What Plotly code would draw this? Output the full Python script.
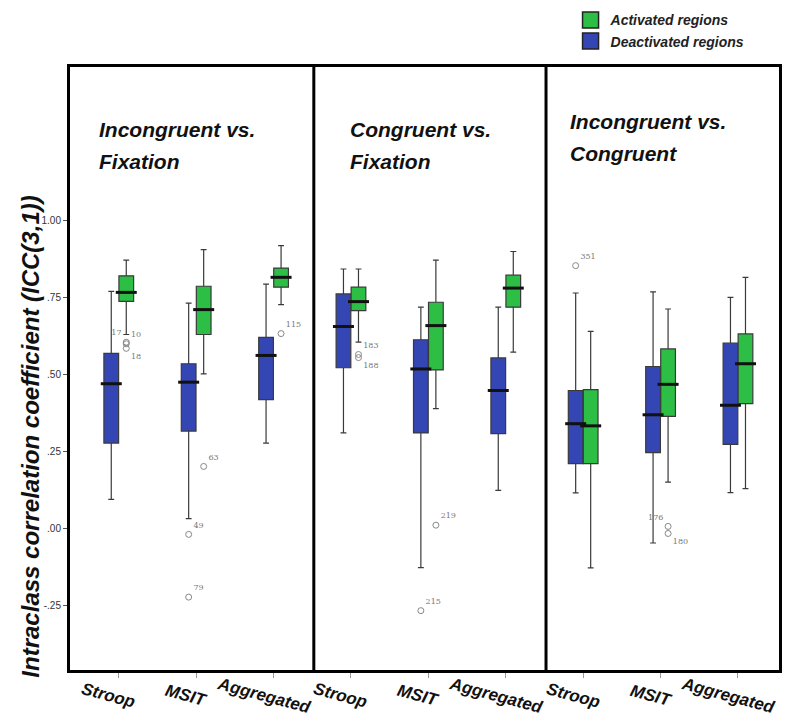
import plotly.graph_objects as go

# ---------------- data ----------------
conditions = ["Incongruent vs.<br>Fixation", "Congruent vs.<br>Fixation", "Incongruent vs.<br>Congruent"]
tasks = ["Stroop", "MSIT", "Aggregated"]

# Deactivated regions (blue), order: cond1 (Stroop, MSIT, Aggregated), cond2 ..., cond3 ...
deact_lower = [0.094, 0.031, 0.277, 0.310, -0.128, 0.123, 0.115, -0.048, 0.116]
deact_q1 = [0.277, 0.316, 0.418, 0.522, 0.310, 0.308, 0.210, 0.246, 0.273]
deact_median = [0.470, 0.475, 0.562, 0.656, 0.518, 0.448, 0.340, 0.369, 0.400]
deact_q3 = [0.569, 0.535, 0.621, 0.762, 0.613, 0.554, 0.448, 0.526, 0.602]
deact_upper = [0.770, 0.732, 0.794, 0.843, 0.719, 0.719, 0.765, 0.769, 0.751]

# Activated regions (green)
act_lower = [0.630, 0.502, 0.727, 0.605, 0.389, 0.573, -0.129, 0.150, 0.129]
act_q1 = [0.738, 0.630, 0.784, 0.708, 0.515, 0.719, 0.210, 0.364, 0.405]
act_median = [0.767, 0.711, 0.816, 0.737, 0.659, 0.781, 0.333, 0.468, 0.535]
act_q3 = [0.821, 0.787, 0.846, 0.784, 0.735, 0.823, 0.451, 0.583, 0.632]
act_upper = [0.872, 0.906, 0.919, 0.843, 0.872, 0.900, 0.640, 0.713, 0.816]

# Outliers (group index, value, case label)
deact_out_group = [1, 1, 4, 6]
deact_out_value = [-0.020, -0.224, -0.268, 0.854]
deact_out_label = ["49", "79", "215", "351"]

act_out_group = [0, 0, 0, 1, 2, 3, 3, 4, 7, 7]
act_out_value = [0.605, 0.600, 0.585, 0.201, 0.633, 0.565, 0.555, 0.010, 0.006, -0.017]
act_out_label = ["17", "10", "18", "63", "115", "183", "188", "219", "176", "180"]

y_tickvals = [1.0, 0.75, 0.5, 0.25, 0.0, -0.25]
y_ticktext = ["1.00", ".75", ".50", ".25", ".00", "-.25"]

# ---------------- styling ----------------
BLUE = "#3446b4"
GREEN = "#2dbf45"
BOX_W = 0.19
OFF = 0.097
deact_out_pos = ["top right", "top right", "top right", "top right"]
act_out_pos = ["top left", "top right", "bottom right", "top right", "top right",
               "top right", "bottom right", "top right", "top left", "bottom right"]

groups = list(range(len(conditions) * len(tasks)))
x_blue = [g - OFF for g in groups]
x_green = [g + OFF for g in groups]

fig = go.Figure()

fig.add_trace(go.Box(
    x=x_blue, q1=deact_q1, median=deact_median, q3=deact_q3,
    lowerfence=deact_lower, upperfence=deact_upper,
    width=BOX_W, fillcolor=BLUE, line=dict(color="#3a3a3a", width=1.2),
    whiskerwidth=0.4, boxpoints=False, showlegend=False, name="Deactivated regions"))
fig.add_trace(go.Box(
    x=x_green, q1=act_q1, median=act_median, q3=act_q3,
    lowerfence=act_lower, upperfence=act_upper,
    width=BOX_W, fillcolor=GREEN, line=dict(color="#3a3a3a", width=1.2),
    whiskerwidth=0.4, boxpoints=False, showlegend=False, name="Activated regions"))

# thick median lines
fig.add_trace(go.Scatter(
    x=x_blue + x_green, y=deact_median + act_median, mode="markers",
    marker=dict(symbol="line-ew", size=15, line=dict(color="#111111", width=3)),
    showlegend=False, hoverinfo="skip"))

# outliers
fig.add_trace(go.Scatter(
    x=[g - OFF for g in deact_out_group], y=deact_out_value, mode="markers+text",
    text=deact_out_label, textposition=deact_out_pos,
    textfont=dict(family="DejaVu Serif", size=8, color="#777777"),
    marker=dict(symbol="circle-open", size=6, color="#888888", line=dict(width=1)),
    showlegend=False, hoverinfo="skip"))
fig.add_trace(go.Scatter(
    x=[g + OFF for g in act_out_group], y=act_out_value, mode="markers+text",
    text=act_out_label, textposition=act_out_pos,
    textfont=dict(family="DejaVu Serif", size=8, color="#777777"),
    marker=dict(symbol="circle-open", size=6, color="#888888", line=dict(width=1)),
    showlegend=False, hoverinfo="skip"))

# legend entries
fig.add_trace(go.Scatter(x=[None], y=[None], mode="markers", name="Activated regions",
                         marker=dict(symbol="square", size=20, color=GREEN,
                                     line=dict(color="#222222", width=1.5))))
fig.add_trace(go.Scatter(x=[None], y=[None], mode="markers", name="Deactivated regions",
                         marker=dict(symbol="square", size=20, color=BLUE,
                                     line=dict(color="#222222", width=1.5))))

FONT = "Liberation Sans"
annotations = []
# panel titles (two lines each)
title_x = [0.038, 0.392, 0.703]
title_y1 = [0.897, 0.897, 0.909]
title_y2 = [0.844, 0.844, 0.856]
for i, c in enumerate(conditions):
    line1, line2 = c.split("<br>")
    for txt, yy in ((line1, title_y1[i]), (line2, title_y2[i])):
        annotations.append(dict(
            text="<b><i>" + txt + "</i></b>", xref="paper", yref="paper",
            x=title_x[i], y=yy, xanchor="left", yanchor="middle", align="left",
            showarrow=False, font=dict(family=FONT, size=21, color="#111111")))
# category labels (rotated)
for i in range(len(conditions)):
    for j, t in enumerate(tasks):
        g = i * len(tasks) + j
        annotations.append(dict(
            text="<b><i>" + t + "</i></b>", xref="x", yref="paper",
            x=g - 0.13, y=-0.042, xanchor="center", yanchor="middle",
            textangle=15, showarrow=False,
            font=dict(family=FONT, size=17, color="#111111")))
# y title
annotations.append(dict(
    text="<b><i>Intraclass correlation coefficient (ICC(3,1))</i></b>",
    xref="paper", yref="paper", x=-0.055, y=0.387, textangle=-90,
    xanchor="center", yanchor="middle", showarrow=False,
    font=dict(family=FONT, size=24, color="#111111")))

shapes = [
    dict(type="line", xref="x", yref="paper", x0=2.52, x1=2.52, y0=0, y1=1,
         line=dict(color="black", width=3)),
    dict(type="line", xref="x", yref="paper", x0=5.52, x1=5.52, y0=0, y1=1,
         line=dict(color="black", width=3)),
]

fig.update_layout(
    width=786, height=727,
    margin=dict(l=70, r=4, t=66, b=57),
    paper_bgcolor="white", plot_bgcolor="white",
    annotations=annotations, shapes=shapes,
    legend=dict(x=0.706, y=1.104, xanchor="left", yanchor="top",
                font=dict(family=FONT, size=14, color="#222222", weight="bold", style="italic"),
                tracegroupgap=0, itemsizing="trace", bgcolor="rgba(0,0,0,0)"),
    xaxis=dict(range=[-0.63, 8.53], tickvals=groups, showticklabels=False,
               ticks="outside", ticklen=5, tickcolor="#999999",
               showgrid=False, zeroline=False, showline=True, mirror=True,
               linecolor="black", linewidth=3),
    yaxis=dict(range=[-0.461, 1.5], tickvals=y_tickvals, ticktext=y_ticktext,
               ticks="outside", ticklen=4, tickcolor="#555555",
               tickfont=dict(family=FONT, size=10, color="#333333"),
               showgrid=False, zeroline=False, showline=True, mirror=True,
               linecolor="black", linewidth=3),
)

fig.write_html("out.html", config={"displayModeBar": False},
               post_script="document.body.style.margin='0';")
